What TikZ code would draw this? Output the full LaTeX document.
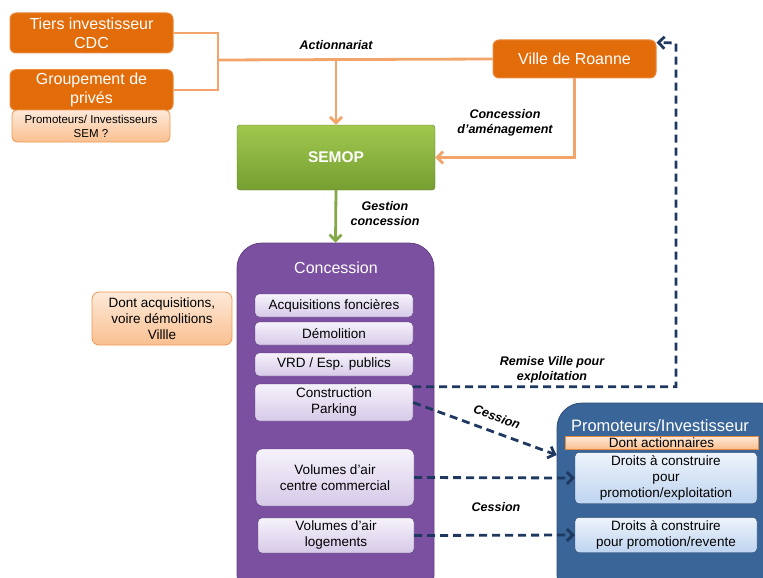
\documentclass[tikz,border=0pt]{standalone}
\usepackage{fontspec}
\setmainfont{Liberation Sans}
\usetikzlibrary{arrows.meta}
\definecolor{orfill}{RGB}{227,108,10}
\definecolor{orline}{RGB}{242,164,106}
\definecolor{orlight}{RGB}{253,233,217}
\definecolor{ormid}{RGB}{250,192,144}
\definecolor{grtop}{RGB}{160,200,78}
\definecolor{grbot}{RGB}{118,158,50}
\definecolor{purp}{RGB}{124,80,161}
\definecolor{lavtop}{RGB}{246,242,251}
\definecolor{lavbot}{RGB}{214,202,232}
\definecolor{bluebox}{RGB}{58,101,153}
\definecolor{bltop}{RGB}{238,244,251}
\definecolor{blbot}{RGB}{190,212,240}
\definecolor{navy}{RGB}{31,56,96}
\begin{document}
\begin{tikzpicture}[x=1pt,y=-1pt]
			\tikzset{orbox/.style={rectangle, rounded corners=6pt, fill=orfill, draw=orfill!80!white, line width=1pt, text=white, align=center, font=\fontsize{16}{19}\selectfont},
				lightor/.style={rectangle, rounded corners=5pt, top color=orlight, bottom color=ormid, draw=orfill!70!white, line width=0.8pt, align=center, font=\fontsize{11.5}{14}\selectfont},
				inbox/.style={rectangle, rounded corners=4pt, top color=lavtop, bottom color=lavbot, draw=purp!70!black, line width=0.4pt, align=center, font=\fontsize{13.5}{16}\selectfont},
				bluein/.style={rectangle, rounded corners=4pt, top color=bltop, bottom color=blbot, draw=bluebox!70!black, line width=0.4pt, align=center, font=\fontsize{13.5}{16}\selectfont},
				orlink/.style={draw=orline, line width=2.8pt},
				navlink/.style={draw=navy, line width=2.8pt, dash pattern=on 8pt off 5pt},
				lbl/.style={align=center, font=\fontsize{12.5}{15}\selectfont\bfseries\itshape}}

			\useasboundingbox (0,0) rectangle (763,578);
			\clip (0,0) rectangle (763,578);

			\node[orbox, minimum width=163pt, minimum height=40pt] at (91.5,33) (tiers) {Tiers investisseur\\CDC};
			\node[orbox, minimum width=163pt, minimum height=40pt] at (91.5,90) (grp) {Groupement de\\privés};
			\node[lightor, minimum width=158pt, minimum height=32pt] at (91,126) (sem) {Promoteurs/ Investisseurs\\SEM ?};
			\node[orbox, minimum width=163pt, minimum height=38pt] at (574.5,59) (ville) {Ville de Roanne};
			\node[rectangle, rounded corners=3pt, top color=grtop, bottom color=grbot, draw=grbot!80!black, line width=0.4pt, text=white, font=\fontsize{15.5}{18}\selectfont\bfseries, minimum width=198pt, minimum height=65pt] at (336,157.5) (semop) {SEMOP};

			\node[rectangle, rounded corners=25pt, fill=purp, draw=purp!80!black, line width=0.8pt, minimum width=197pt, minimum height=357pt] at (335.5,421.5) (conc) {};
			\node[text=white, font=\fontsize{16}{19}\selectfont] at (336,268) (conct) {Concession};
			\node[lightor, rounded corners=7pt, font=\fontsize{13.5}{16}\selectfont, minimum width=140pt, minimum height=53pt] at (162,318.5) (dav) {Dont acquisitions,\\voire démolitions\\Villle};

			\node[inbox, minimum width=158pt, minimum height=23pt] at (334,305.5) (acq) {Acquisitions foncières};
			\node[inbox, minimum width=158pt, minimum height=23pt] at (334,333.5) (demo) {Démolition};
			\node[inbox, minimum width=158pt, minimum height=23pt] at (334,364.5) (vrd) {VRD / Esp. publics};
			\node[inbox, minimum width=158pt, minimum height=37pt] at (334,402.5) (cpk) {Construction\\Parking};
			\node[inbox, rounded corners=6pt, minimum width=158pt, minimum height=57pt] at (335,477.5) (vcc) {Volumes d’air\\centre commercial};
			\node[inbox, minimum width=156pt, minimum height=33pt] at (336,535.5) (vlg) {Volumes d’air\\logements};

			\node[rectangle, rounded corners=25pt, fill=bluebox, draw=bluebox!75!black, line width=0.8pt, minimum width=228pt, minimum height=197pt] at (671,501.5) (prom) {};
			\node[text=white, font=\fontsize{16.5}{19}\selectfont] at (660,426) (promt) {Promoteurs/Investisseur};
			\node[rectangle, top color=orlight, bottom color=ormid, draw=orfill!80!white, line width=0.8pt, inner sep=0pt, minimum width=193pt, minimum height=13pt, font=\fontsize{13.5}{13}\selectfont] at (661.5,442.5) (dact) {Dont actionnaires};
			\node[bluein, minimum width=182pt, minimum height=46pt] at (666,478) (dr1) {Droits à construire\\pour\\promotion/exploitation};
			\node[bluein, minimum width=182pt, minimum height=34pt] at (666,535) (dr2) {Droits à construire\\pour promotion/revente};

			\coordinate (jb) at (218,90);
			\coordinate (ja) at (218,60);
			\coordinate (jm) at (336,60);
			\coordinate (rk) at (676,43);
			\draw [orlink] (tiers.east) -| (jb) -- (grp.east);
			\draw [orlink] (ja) -- (ville.west);
			\draw [orlink, -{Straight Barb[length=6pt,width=12pt]}] (jm) -- (semop.north);
			\draw [orlink, -{Straight Barb[length=6pt,width=12pt]}] (ville.south) |- (semop.east);
			\draw [draw=grbot!90!white, line width=2.8pt, -{Straight Barb[length=6pt,width=12pt]}] (semop.south) -- (conc.north);
			\draw [navlink, -{Straight Barb[length=6pt,width=12pt]}] ([yshift=-3pt]cpk.north east) -| (rk) -- ([yshift=-3pt]ville.north east);
			\draw [navlink, -{Straight Barb[length=6pt,width=12pt]}] (cpk.east) -- ([yshift=46.5pt]prom.west);
			\draw [navlink, -{Straight Barb[length=6pt,width=12pt]}] (vcc.east) -- (dr1.west);
			\draw [navlink, -{Straight Barb[length=6pt,width=12pt]}] (vlg.east) -- (dr2.west);

			\node[lbl] at (336,45) (lact) {Actionnariat};
			\node[lbl] at (505,123) (lcda) {Concession\\d’aménagement};
			\node[lbl] at (385,214) (lgc) {Gestion\\concession};
			\node[lbl] at (552,370) (lrv) {Remise Ville pour\\exploitation};
			\node[lbl, rotate=-20] at (497,417) (lces1) {Cession};
			\node[lbl] at (496,507) (lces2) {Cession};
		\end{tikzpicture}
\end{document}
